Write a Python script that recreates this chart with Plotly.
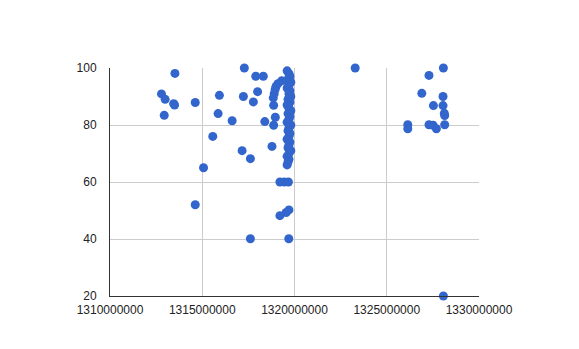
import plotly.graph_objects as go

# x values (in millions, converted below) and y values
x_millions = [
    1313.52, 1312.79, 1312.99, 1313.45, 1313.50, 1312.94, 1314.62, 1315.93, 1315.86, 1316.62,
    1315.57, 1315.07, 1314.62, 1317.28, 1317.90, 1318.31, 1318.00, 1317.23, 1317.77, 1318.39,
    1317.16, 1317.61, 1317.61, 1318.78, 1318.87, 1318.96, 1318.87, 1318.90, 1318.95, 1319.00,
    1318.85, 1319.10, 1319.30,
    1319.60, 1319.70, 1319.75, 1319.65, 1319.80, 1319.70, 1319.60, 1319.75, 1319.70, 1319.80,
    1319.65, 1319.75, 1319.60, 1319.70, 1319.80, 1319.65, 1319.75, 1319.70, 1319.60, 1319.80,
    1319.70, 1319.65, 1319.75, 1319.70, 1319.60, 1319.75, 1319.70, 1319.65, 1319.80, 1319.70,
    1319.60, 1319.70, 1319.65, 1319.60,
    1319.21, 1319.45, 1319.67, 1319.21, 1319.55, 1319.70, 1319.69,
    1323.29, 1328.07, 1327.29, 1326.90, 1328.05, 1327.53, 1328.05, 1328.12, 1328.14,
    1326.14, 1326.14, 1327.29, 1327.51, 1327.69, 1328.14, 1328.07,
]
y_values = [
    98.1, 90.9, 89.0, 87.5, 87.0, 83.4, 87.9, 90.4, 84.0, 81.5,
    76.0, 65.0, 52.0, 100.0, 97.1, 97.1, 91.7, 90.0, 88.1, 81.2,
    71.0, 68.2, 40.1, 72.5, 86.9, 82.7, 79.9, 91.0, 92.5, 93.5,
    89.5, 94.5, 95.5,
    99.0, 98.0, 97.0, 96.0, 95.0, 94.0, 93.0, 92.0, 91.0, 90.0,
    89.0, 88.0, 87.0, 86.0, 85.0, 84.0, 83.0, 82.0, 81.0, 80.0,
    79.0, 78.0, 77.0, 76.0, 75.0, 74.0, 73.0, 72.0, 71.0, 70.0,
    69.0, 68.0, 67.0, 66.0,
    60.0, 60.0, 60.0, 48.2, 49.3, 50.2, 40.1,
    100.0, 100.0, 97.4, 91.1, 90.0, 86.8, 86.8, 84.1, 83.3,
    80.1, 78.7, 80.1, 79.9, 78.7, 80.1, 20.0,
]

x_ticks = [1310000000, 1315000000, 1320000000, 1325000000, 1330000000]
y_ticks = [20, 40, 60, 80, 100]

x_values = [v * 1_000_000 for v in x_millions]

fig = go.Figure(go.Scatter(
    x=x_values, y=y_values, mode="markers",
    marker=dict(size=9, color="#3366cc", line=dict(width=0)),
    cliponaxis=False,
))

fig.update_layout(
    width=579, height=349,
    margin=dict(l=110, r=100, t=68, b=53),
    paper_bgcolor="white", plot_bgcolor="white",
    showlegend=False,
    font=dict(family="Liberation Sans, Arial, sans-serif", size=12, color="#222222"),
)
fig.update_xaxes(
    range=[1310000000, 1330000000], tickvals=x_ticks,
    ticktext=[str(v) for v in x_ticks],
    showgrid=True, gridcolor="#cccccc", gridwidth=1,
    showline=True, linecolor="#333333", linewidth=1,
    zeroline=False, ticks="", ticklabelstandoff=3,
)
fig.update_yaxes(
    range=[20, 100], tickvals=y_ticks,
    showgrid=True, gridcolor="#cccccc", gridwidth=1,
    showline=True, linecolor="#333333", linewidth=1,
    zeroline=False, ticks="", ticklabelstandoff=10,
)

fig.write_html("out.html")
